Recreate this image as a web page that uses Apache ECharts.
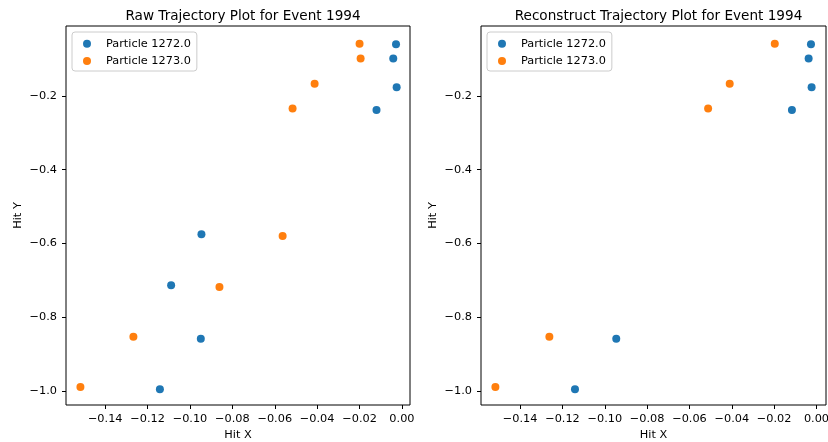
<!DOCTYPE html>
<html>
<head>
<meta charset="utf-8">
<script src="https://cdn.jsdelivr.net/npm/echarts@6/dist/echarts.min.js"></script>
<style>
  html, body { margin: 0; padding: 0; background: #fff; }
  #chart { width: 828px; height: 442px; }
</style>
</head>
<body>
<div id="chart"></div>
<script>
// Hit coordinates per particle, raw hits
const rawP1272X = [-0.0028, -0.0041, -0.0025, -0.0120, -0.0946, -0.1089, -0.0949, -0.1142];
const rawP1272Y = [-0.060, -0.098, -0.176, -0.238, -0.575, -0.713, -0.858, -0.995];
const rawP1273X = [-0.0200, -0.0195, -0.0412, -0.0516, -0.0563, -0.0861, -0.1267, -0.1517];
const rawP1273Y = [-0.058, -0.098, -0.167, -0.234, -0.580, -0.718, -0.853, -0.989];

// Hit coordinates per particle, reconstructed hits
const recP1272X = [-0.0026, -0.0037, -0.0023, -0.0116, -0.0946, -0.1141];
const recP1272Y = [-0.060, -0.098, -0.176, -0.238, -0.858, -0.995];
const recP1273X = [-0.0197, -0.0410, -0.0512, -0.1262, -0.1517];
const recP1273Y = [-0.058, -0.167, -0.234, -0.853, -0.989];

const seriesNames = ['Particle 1272.0', 'Particle 1273.0'];
const panelTitles = ['Raw Trajectory Plot for Event 1994', 'Reconstruct Trajectory Plot for Event 1994'];
const xTicks = [-0.14, -0.12, -0.10, -0.08, -0.06, -0.04, -0.02, 0.00];
const yTicks = [-1.0, -0.8, -0.6, -0.4, -0.2];

const colors = ['#1f77b4', '#ff7f0e'];
const FONT = 'DejaVu Sans';
const TICK_FS = 11.3;

const zip = (xs, ys) => xs.map((x, i) => [x, ys[i]]);
const fmt = (v, d) => {
  const s = Math.abs(v).toFixed(d);
  return (v < 0 && Math.abs(v) > 1e-12 ? '\u2212' : '') + s;
};

const grids = [
  { left: 66, top: 26, width: 344, height: 379 },
  { left: 481, top: 26, width: 345, height: 379 }
];
const xRanges = [[-0.1585, 0.0038], [-0.1585, 0.0045]];
const yRange = [-1.038, -0.0102];

function xAxis(i) {
  return {
    type: 'value', gridIndex: i, min: xRanges[i][0], max: xRanges[i][1],
    name: 'Hit X', nameLocation: 'middle', nameGap: 25,
    nameTextStyle: { fontFamily: FONT, fontSize: TICK_FS, color: '#000' },
    axisLine: { show: false, onZero: false },
    splitLine: { show: false },
    axisTick: { show: true, length: 4, inside: false, customValues: xTicks,
                lineStyle: { color: '#000', width: 1 } },
    axisLabel: { customValues: xTicks, margin: 9, fontFamily: FONT, fontSize: TICK_FS,
                 color: '#000', formatter: v => fmt(v, 2) }
  };
}
function yAxis(i) {
  return {
    type: 'value', gridIndex: i, min: yRange[0], max: yRange[1],
    name: 'Hit Y', nameLocation: 'middle', nameGap: 42, nameRotate: 90,
    nameTextStyle: { fontFamily: FONT, fontSize: TICK_FS, color: '#000' },
    axisLine: { show: false, onZero: false },
    splitLine: { show: false },
    axisTick: { show: true, length: 4, inside: false, customValues: yTicks,
                lineStyle: { color: '#000', width: 1 } },
    axisLabel: { customValues: yTicks, margin: 9, fontFamily: FONT, fontSize: TICK_FS,
                 color: '#000', formatter: v => fmt(v, 1) }
  };
}
function scatter(name, i, data, color) {
  return {
    type: 'scatter', name: name, xAxisIndex: i, yAxisIndex: i, data: data,
    symbol: 'circle', symbolSize: 8, itemStyle: { color: color, opacity: 1 },
    silent: true, animation: false
  };
}
function legend(i) {
  return {
    data: seriesNames.map(n => ({ name: n, icon: 'circle' })),
    orient: 'vertical', left: grids[i].left + 6, top: 32,
    itemWidth: 28, itemHeight: 8, itemGap: 3.3,
    padding: [4.7, 6, 3, 11],
    textStyle: { fontFamily: FONT, fontSize: TICK_FS, color: '#000', lineHeight: 14 },
    backgroundColor: 'rgba(255,255,255,0.8)',
    borderColor: '#cccccc', borderWidth: 1, borderRadius: 3,
    selectedMode: false
  };
}

const chart = echarts.init(document.getElementById('chart'), null, { renderer: 'canvas' });
chart.setOption({
  animation: false,
  backgroundColor: '#fff',
  color: colors,
  title: panelTitles.map((t, i) => ({
    text: t, left: grids[i].left + grids[i].width / 2, top: 4, textAlign: 'center',
    textStyle: { fontFamily: FONT, fontSize: 13.6, fontWeight: 'normal', color: '#000' }
  })),
  grid: grids.map(g => Object.assign({ show: true, borderColor: '#000', borderWidth: 1,
                                       backgroundColor: 'transparent',
                                       containLabel: false, outerBoundsMode: 'none' }, g)),
  xAxis: [xAxis(0), xAxis(1)],
  yAxis: [yAxis(0), yAxis(1)],
  legend: [legend(0), legend(1)],
  series: [
    scatter(seriesNames[0], 0, zip(rawP1272X, rawP1272Y), colors[0]),
    scatter(seriesNames[1], 0, zip(rawP1273X, rawP1273Y), colors[1]),
    scatter(seriesNames[0], 1, zip(recP1272X, recP1272Y), colors[0]),
    scatter(seriesNames[1], 1, zip(recP1273X, recP1273Y), colors[1])
  ]
});
</script>
</body>
</html>
